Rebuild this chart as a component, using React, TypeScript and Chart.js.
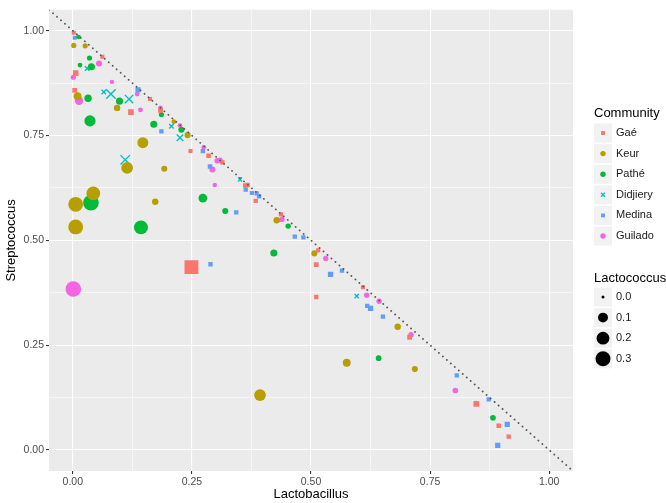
import React, { useEffect, useRef } from 'react';
import { Chart, registerables } from 'chart.js';

Chart.register(...registerables);

// [Lactobacillus, Streptococcus, Lactococcus]
type P = [number, number, number];

const communities = ['Gaé', 'Keur', 'Pathé', 'Didjiery', 'Medina', 'Guilado'];
const colors = ['#F8766D', '#B79F00', '#00BA38', '#00BFC4', '#619CFF', '#F564E3'];
const shapes = ['rect', 'circle', 'circle', 'crossRot', 'rect', 'circle'];
const sizeBreaks = [0.0, 0.1, 0.2, 0.3];
const sizeLabels = ['0.0', '0.1', '0.2', '0.3'];
const gridValues = [0, 0.125, 0.25, 0.375, 0.5, 0.625, 0.75, 0.875, 1];

const gae: P[] = [
  [0.002, 0.995, 0.004], [0.062, 0.938, 0.004], [0.006, 0.899, 0.02], [0.004, 0.858, 0.01],
  [0.162, 0.837, 0.004], [0.122, 0.806, 0.02], [0.184, 0.81, 0.01], [0.247, 0.713, 0.004],
  [0.285, 0.702, 0.008], [0.314, 0.686, 0.006], [0.362, 0.631, 0.008], [0.367, 0.632, 0.006],
  [0.384, 0.594, 0.006], [0.249, 0.436, 0.3], [0.437, 0.562, 0.006], [0.515, 0.476, 0.006],
  [0.511, 0.442, 0.01], [0.511, 0.365, 0.006], [0.609, 0.388, 0.004], [0.707, 0.269, 0.01],
  [0.847, 0.11, 0.02], [0.894, 0.058, 0.008], [0.915, 0.032, 0.006],
];
const keur: P[] = [
  [0.002, 0.965, 0.01], [0.026, 0.964, 0.01], [0.01, 0.844, 0.05], [0.093, 0.816, 0.025],
  [0.212, 0.783, 0.006], [0.241, 0.751, 0.02], [0.147, 0.733, 0.13], [0.114, 0.673, 0.16],
  [0.192, 0.671, 0.02], [0.173, 0.592, 0.025], [0.043, 0.612, 0.24], [0.006, 0.586, 0.29],
  [0.006, 0.532, 0.29], [0.428, 0.548, 0.025], [0.507, 0.469, 0.02], [0.682, 0.294, 0.025],
  [0.575, 0.208, 0.05], [0.718, 0.193, 0.02], [0.393, 0.131, 0.16],
];
const pathe: P[] = [
  [0.012, 0.985, 0.006], [0.035, 0.935, 0.01], [0.015, 0.918, 0.006], [0.039, 0.914, 0.035],
  [0.032, 0.839, 0.04], [0.098, 0.832, 0.035], [0.186, 0.8, 0.01], [0.036, 0.785, 0.14],
  [0.17, 0.777, 0.035], [0.228, 0.764, 0.02], [0.273, 0.601, 0.07], [0.038, 0.59, 0.33],
  [0.143, 0.531, 0.25], [0.32, 0.57, 0.02], [0.452, 0.534, 0.012], [0.422, 0.47, 0.035],
  [0.642, 0.219, 0.015], [0.882, 0.077, 0.015],
];
const didjiery: P[] = [
  [0.03, 0.91, 0.006], [0.065, 0.854, 0.006], [0.08, 0.849, 0.1], [0.118, 0.837, 0.07],
  [0.207, 0.772, 0.006], [0.225, 0.745, 0.03], [0.11, 0.692, 0.1], [0.351, 0.645, 0.003],
  [0.596, 0.367, 0.004],
];
const medina: P[] = [
  [0.004, 0.983, 0.004], [0.137, 0.859, 0.015], [0.186, 0.76, 0.006], [0.273, 0.713, 0.006],
  [0.288, 0.676, 0.008], [0.363, 0.621, 0.006], [0.376, 0.613, 0.005], [0.386, 0.612, 0.005],
  [0.391, 0.605, 0.006], [0.343, 0.567, 0.006], [0.289, 0.443, 0.006], [0.466, 0.509, 0.006],
  [0.484, 0.507, 0.006], [0.541, 0.419, 0.015], [0.565, 0.428, 0.006], [0.618, 0.344, 0.006],
  [0.625, 0.338, 0.015], [0.651, 0.318, 0.006], [0.806, 0.178, 0.006], [0.873, 0.121, 0.006],
  [0.912, 0.061, 0.015], [0.892, 0.011, 0.015],
];
const guilado: P[] = [
  [0.055, 0.922, 0.02], [0.001, 0.889, 0.01], [0.082, 0.878, 0.004], [0.013, 0.833, 0.06],
  [0.135, 0.849, 0.006], [0.142, 0.811, 0.006], [0.184, 0.816, 0.006], [0.225, 0.774, 0.006],
  [0.275, 0.722, 0.006], [0.303, 0.69, 0.012], [0.309, 0.691, 0.012], [0.293, 0.669, 0.02],
  [0.298, 0.632, 0.004], [0.439, 0.55, 0.012], [0.531, 0.457, 0.012], [0.617, 0.369, 0.012],
  [0.643, 0.355, 0.012], [0.71, 0.275, 0.012], [0.803, 0.142, 0.015], [0.001, 0.384, 0.33],
];

const groups = [gae, keur, pathe, didjiery, medina, guilado];

const FONT = "'Liberation Sans', Arial, Helvetica, sans-serif";
const rOf = (v: number) => 1.5 + 6.3 * Math.sqrt(Math.max(0, v) / 0.33);
const isMajor = (v: number) => Math.abs(v * 4 - Math.round(v * 4)) < 1e-6;
const shapeRadius = (shape: string, r: number) =>
  shape === 'rect' ? r * 1.3 : shape === 'crossRot' ? r * 1.35 : r;

function drawShape(ctx: CanvasRenderingContext2D, shape: string, x: number, y: number, r: number, color: string) {
  ctx.save();
  ctx.fillStyle = color;
  ctx.strokeStyle = color;
  if (shape === 'rect') {
    const h = r * 0.72;
    ctx.fillRect(x - h, y - h, 2 * h, 2 * h);
  } else if (shape === 'crossRot') {
    const h = r * 0.75;
    ctx.lineWidth = 1.3;
    ctx.beginPath();
    ctx.moveTo(x - h, y - h);
    ctx.lineTo(x + h, y + h);
    ctx.moveTo(x + h, y - h);
    ctx.lineTo(x - h, y + h);
    ctx.stroke();
  } else {
    ctx.beginPath();
    ctx.arc(x, y, r, 0, Math.PI * 2);
    ctx.fill();
  }
  ctx.restore();
}

const panelPlugin = {
  id: 'panel',
  beforeDraw(chart: any) {
    const { ctx, chartArea: a } = chart;
    ctx.save();
    ctx.fillStyle = '#FFFFFF';
    ctx.fillRect(0, 0, chart.width, chart.height);
    ctx.fillStyle = '#EBEBEB';
    ctx.fillRect(a.left, a.top, a.right - a.left, a.bottom - a.top);
    ctx.restore();
  },
};

const legendPlugin = {
  id: 'ggLegend',
  afterDraw(chart: any) {
    const ctx: CanvasRenderingContext2D = chart.ctx;
    const x0 = 594;
    const keyW = 18;
    const keyH = 19;
    ctx.save();
    ctx.textBaseline = 'middle';
    ctx.textAlign = 'left';
    ctx.fillStyle = '#000';
    ctx.font = `13px ${FONT}`;
    ctx.fillText('Community', x0, 113);
    ctx.font = `11px ${FONT}`;
    communities.forEach((name, i) => {
      const cy = 133 + i * 20.6;
      ctx.fillStyle = '#F2F2F2';
      ctx.fillRect(x0, cy - keyH / 2, keyW, keyH);
      drawShape(ctx, shapes[i], x0 + keyW / 2, cy, 2.7, colors[i]);
      ctx.fillStyle = '#1A1A1A';
      ctx.fillText(name, x0 + keyW + 4, cy);
    });
    ctx.fillStyle = '#000';
    ctx.font = `13px ${FONT}`;
    ctx.fillText('Lactococcus', x0, 278);
    ctx.font = `11px ${FONT}`;
    sizeBreaks.forEach((v, i) => {
      const cy = 297 + i * 20.6;
      ctx.fillStyle = '#F2F2F2';
      ctx.fillRect(x0, cy - keyH / 2, keyW, keyH);
      drawShape(ctx, 'circle', x0 + keyW / 2, cy, rOf(v), '#000');
      ctx.fillStyle = '#1A1A1A';
      ctx.fillText(sizeLabels[i], x0 + keyW + 4, cy);
    });
    ctx.restore();
  },
};

function axisOptions(title: string, isX: boolean) {
  return {
    type: 'linear',
    min: -0.05,
    max: 1.05,
    afterBuildTicks: (s: any) => {
      s.ticks = gridValues.map((v) => ({ value: v }));
    },
    afterFit: (s: any) => {
      if (isX) s.height = 32;
      else s.width = 49;
    },
    border: { display: false },
    grid: {
      color: '#FFFFFF',
      lineWidth: (c: any) => (c.tick && isMajor(c.tick.value) ? 1.1 : 0.55),
      drawTicks: true,
      tickLength: 3,
      tickWidth: 1.1,
      tickColor: (c: any) => (c.tick && isMajor(c.tick.value) ? '#333333' : 'rgba(0,0,0,0)'),
    },
    ticks: {
      autoSkip: false,
      maxRotation: 0,
      padding: 2,
      color: '#4D4D4D',
      font: { family: FONT, size: 10.5 },
      callback: (v: number) => (isMajor(v) ? v.toFixed(2) : ''),
    },
    title: {
      display: true,
      text: title,
      color: '#000000',
      font: { family: FONT, size: 13 },
      padding: isX ? { top: 0, bottom: 1 } : { top: 4, bottom: 0 },
    },
  };
}

export default function App() {
  const ref = useRef<HTMLCanvasElement | null>(null);

  useEffect(() => {
    if (!ref.current) return;
    const datasets: any[] = groups.map((g, i) => ({
      type: 'scatter',
      label: communities[i],
      data: g.map((p) => ({ x: p[0], y: p[1], l: p[2] })),
      pointStyle: shapes[i],
      backgroundColor: colors[i],
      borderColor: colors[i],
      borderWidth: shapes[i] === 'crossRot' ? 1.4 : 0,
      pointRadius: (c: any) => shapeRadius(shapes[i], rOf(c.raw ? c.raw.l : 0)),
      pointHoverRadius: (c: any) => shapeRadius(shapes[i], rOf(c.raw ? c.raw.l : 0)),
      order: 1,
    }));
    datasets.push({
      type: 'line',
      label: 'diag',
      data: [
        { x: -0.05, y: 1.05 },
        { x: 1.05, y: -0.05 },
      ],
      borderColor: '#555555',
      borderWidth: 1.8,
      borderDash: [0.1, 5.2],
      borderCapStyle: 'round',
      pointRadius: 0,
      fill: false,
      order: 0,
    });

    const chart = new Chart(ref.current, {
      type: 'scatter',
      data: { datasets },
      options: {
        animation: false,
        responsive: false,
        devicePixelRatio: 1,
        events: [],
        layout: { padding: { top: 5, right: 93, left: 0, bottom: 0 } },
        plugins: { legend: { display: false }, tooltip: { enabled: false } },
        scales: {
          x: axisOptions('Lactobacillus', true) as any,
          y: axisOptions('Streptococcus', false) as any,
        },
      },
      plugins: [panelPlugin, legendPlugin],
    } as any);
    return () => chart.destroy();
  }, []);

  return (
    <div style={{ position: 'absolute', left: 0, top: 0, width: 666, height: 503, background: '#fff' }}>
      <canvas ref={ref} width={666} height={503} style={{ display: 'block' }} />
    </div>
  );
}
